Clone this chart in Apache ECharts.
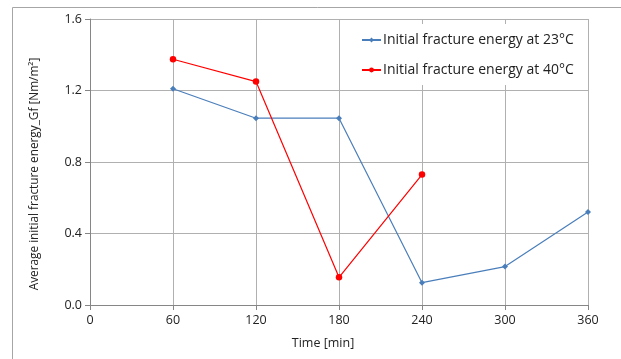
<!DOCTYPE html>
<html>
<head>
<meta charset="utf-8">
<script src="https://cdn.jsdelivr.net/npm/echarts@6/dist/echarts.min.js"></script>
<style>
  html,body{margin:0;padding:0;background:#fff;}
  #main{width:621px;height:359px;}
</style>
</head>
<body>
<div id="main"></div>
<script>
var xTicks = [0, 60, 120, 180, 240, 300, 360]
var time23 = [60, 120, 180, 240, 300, 360]
var gf23 = [1.21, 1.045, 1.045, 0.125, 0.215, 0.52]
var time40 = [60, 120, 180, 240]
var gf40 = [1.375, 1.25, 0.155, 0.73]

var font = 'Open Sans'
var chart = echarts.init(document.getElementById('main'), null, {renderer: 'canvas'})

var option = {
  backgroundColor: '#fff',
  animation: false,
  grid: {left: 90, right: 33, top: 19, bottom: 54},
  legend: {
    left: 355,
    top: 24,
    orient: 'vertical',
    backgroundColor: '#fff',
    padding: [9, 8, 8, 6],
    itemGap: 16,
    itemWidth: 19,
    itemHeight: 6,
    textStyle: {fontFamily: font, fontSize: 14, color: '#222', padding: [0, 0, 0, -3]},
    data: ['Initial fracture energy at 23°C', 'Initial fracture energy at 40°C']
  },
  xAxis: {
    type: 'value',
    min: 0, max: 360, interval: 60,
    axisLine: {show: true, lineStyle: {color: '#868686'}},
    axisTick: {show: true, length: 5, lineStyle: {color: '#868686'}},
    axisLabel: {fontFamily: font, fontSize: 12.5, color: '#222', margin: 9,
      formatter: function (v) { return xTicks.indexOf(v) >= 0 ? String(v) : '' }},
    splitLine: {show: true, lineStyle: {color: '#b0b0b0', width: 1}}
  },
  yAxis: {
    type: 'value',
    min: 0, max: 1.6, interval: 0.4,
    axisLine: {show: true, lineStyle: {color: '#868686'}},
    axisTick: {show: true, length: 5, lineStyle: {color: '#868686'}},
    axisLabel: {fontFamily: font, fontSize: 12.5, color: '#222', margin: 8,
      formatter: function (v) { return v.toFixed(1) }},
    splitLine: {show: true, lineStyle: {color: '#b0b0b0', width: 1}}
  },
  series: [
    {
      name: 'Initial fracture energy at 23°C',
      type: 'line',
      data: time23.map(function (t, i) { return [t, gf23[i]] }),
      symbol: 'diamond',
      symbolSize: 6,
      color: '#4a7ebb',
      lineStyle: {width: 1.2, color: '#4a7ebb'},
      itemStyle: {color: '#4a7ebb'},
      z: 3
    },
    {
      name: 'Initial fracture energy at 40°C',
      type: 'line',
      data: time40.map(function (t, i) { return [t, gf40[i]] }),
      symbol: 'circle',
      symbolSize: 6.5,
      color: '#ff0000',
      lineStyle: {width: 1.2, color: '#ff0000'},
      itemStyle: {color: '#ff0000'},
      z: 4
    }
  ],
  graphic: [
    {
      type: 'rect', left: 10, top: 5, silent: true, z: -10,
      shape: {width: 700, height: 400},
      style: {fill: 'none', stroke: '#a6a6a6', lineWidth: 1}
    },
    {
      type: 'text', x: 323, y: 343, silent: true,
      style: {text: 'Time [min]', fontFamily: font, fontSize: 12.5, fill: '#222',
        align: 'center', verticalAlign: 'middle'}
    },
    {
      type: 'text', x: 35, y: 174, rotation: Math.PI / 2, silent: true,
      style: {text: 'Average initial fracture energy_Gf [Nm/m²]', fontFamily: font, fontSize: 11.8,
        fill: '#222', align: 'center', verticalAlign: 'middle'}
    }
  ]
}
chart.setOption(option)
</script>
</body>
</html>
